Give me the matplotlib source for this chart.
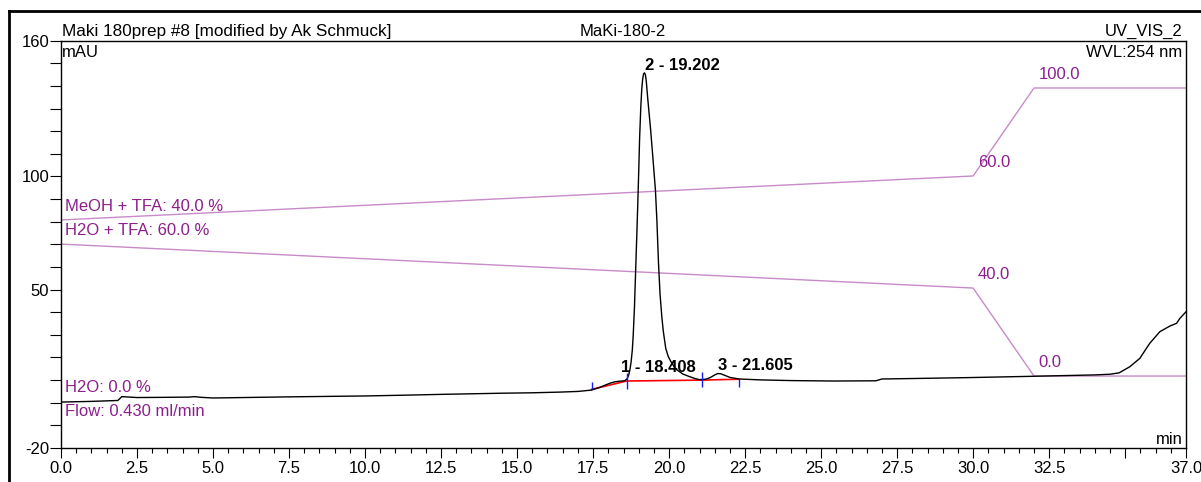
import matplotlib
matplotlib.use('Agg')
import matplotlib.pyplot as plt
from matplotlib.lines import Line2D

plt.rcParams['font.family'] = ['Liberation Sans', 'DejaVu Sans']

# ---- chromatogram trace (time in min, signal in mAU) ----
time = [0.0, 1.0, 1.87, 2.0, 2.5, 3.5, 4.2, 4.4, 4.6, 5.0, 6.0, 7.5, 10.0, 11.15,
        12.5, 14.44, 15.5, 16.4, 17.0, 17.45, 17.7, 17.9, 18.05, 18.2, 18.35,
        18.45, 18.55, 18.62, 18.67, 18.71, 18.75, 18.79, 18.82, 18.86, 18.90,
        18.94, 18.97, 19.00, 19.03, 19.07, 19.10, 19.13, 19.16, 19.19, 19.22,
        19.25, 19.30, 19.39, 19.48, 19.55, 19.60, 19.65, 19.70, 19.76, 19.81,
        19.89, 19.97, 20.05, 20.15, 20.25, 20.45, 20.68, 20.85, 21.0, 21.2,
        21.35, 21.5, 21.6, 21.7, 21.85, 22.0, 22.3, 23.0, 24.0, 25.4, 26.8,
        27.0, 27.5, 28.0, 29.8, 32.0, 34.0, 34.5, 34.8, 35.15, 35.48, 35.81,
        36.14, 36.47, 36.69, 36.8, 37.0]
signal = [0.3, 0.6, 1.0, 2.7, 2.3, 2.4, 2.5, 2.7, 2.4, 2.1, 2.3, 2.6, 3.0, 3.3,
          3.7, 4.2, 4.4, 4.7, 5.0, 5.6, 6.7, 7.8, 8.6, 9.2, 9.5,
          9.6, 9.8, 10.6, 12.2, 14.5, 18.0, 23.3, 30.0, 42.0, 58.7,
          75.0, 88.0, 102.0, 117.0, 131.0, 138.5, 143.0, 145.3, 145.8, 145.0,
          142.0, 134.0, 121.0, 106.0, 94.0, 80.0, 62.0, 48.4, 38.0, 31.5,
          24.0, 20.5, 18.4, 16.3, 14.6, 12.7, 11.5, 10.7, 10.2, 10.4,
          11.1, 12.3, 12.9, 12.8, 12.0, 11.2, 10.5, 10.1, 9.8, 9.6, 9.7,
          10.5, 10.6, 10.7, 11.1, 11.7, 12.3, 12.6, 13.2, 15.9, 19.6, 26.3,
          31.4, 33.9, 35.1, 37.3, 40.2]

# ---- integration results ----
peak_labels = ['1 - 18.408', '2 - 19.202', '3 - 21.605']
peak_rt = [18.408, 19.202, 21.605]
peak_height = [12.0, 145.8, 13.0]
baseline_t = [17.45, 18.60, 21.07, 22.31]
baseline_v = [5.9, 9.6, 10.0, 10.4]
marker_low = [5.9, 5.9, 6.8, 6.8]
marker_high = [9.3, 13.0, 13.7, 10.4]

# ---- gradient program ----
grad_t = [0.0, 30.0, 32.0, 37.0]
meoh_pct = [40.0, 60.0, 100.0, 100.0]
h2o_pct = [60.0, 40.0, 0.0, 0.0]

# ---- axis ticks ----
xmajor = [0, 2.5, 5, 7.5, 10, 12.5, 15, 17.5, 20, 22.5, 25, 27.5, 30, 32.5, 35, 37]
xlabels = ['0.0', '2.5', '5.0', '7.5', '10.0', '12.5', '15.0', '17.5', '20.0',
           '22.5', '25.0', '27.5', '30.0', '32.5', '', '37.0']
ymajor = [-20, 50, 100, 160]
ylabels = ['-20', '50', '100', '160']

W, H = 1201, 482
FS = 12
fig = plt.figure(figsize=(W / 100, H / 100), dpi=100)
ax = fig.add_axes([61 / W, 1 - 448 / H, (1186 - 61) / W, (448 - 40.7) / H])
ax.set_xlim(0, 37)
ax.set_ylim(-20, 160)

# gradient lines (percent mapped onto the signal axis)
gscale = 0.972
line_col = '#c98ac9'
txt_col = '#8c1f8c'
def g_map(pcts, offset):
    return [offset + gscale * p for p in pcts]
meoh_v = g_map(meoh_pct, 41.9)
h2o_v = g_map(h2o_pct, 11.8)
ax.plot(grad_t, meoh_v, color=line_col, lw=1.0, zorder=1)
ax.plot(grad_t, h2o_v, color=line_col, lw=1.0, zorder=1)

ax.annotate(f'MeOH + TFA: {meoh_pct[0]:.1f} %', (grad_t[0], meoh_v[0]), xytext=(3, 9.5),
            textcoords='offset points', color=txt_col, fontsize=FS, va='center', ha='left')
ax.annotate(f'H2O + TFA: {h2o_pct[0]:.1f} %', (grad_t[0], h2o_v[0]), xytext=(3, 9.5),
            textcoords='offset points', color=txt_col, fontsize=FS, va='center', ha='left')
for i in (1, 2):
    ax.annotate(f'{meoh_pct[i]:.1f}', (grad_t[i], meoh_v[i]), xytext=(3.5, 9.5),
                textcoords='offset points', color=txt_col, fontsize=FS, va='center', ha='left')
    ax.annotate(f'{h2o_pct[i]:.1f}', (grad_t[i], h2o_v[i]), xytext=(3.5, 9.5),
                textcoords='offset points', color=txt_col, fontsize=FS, va='center', ha='left')
ax.text(0.13, 6.6, 'H2O: 0.0 %', color=txt_col, fontsize=FS, va='center', ha='left')
ax.text(0.13, -4.0, 'Flow: 0.430 ml/min', color=txt_col, fontsize=FS, va='center', ha='left')

# chromatogram
ax.plot(time, signal, color='black', lw=1.0, zorder=3)
ax.plot(baseline_t, baseline_v, color='red', lw=1.2, zorder=2)
ax.vlines(baseline_t, marker_low, marker_high, color='#1a1aff', lw=1.0, zorder=4)
for lab, rt, h in zip(peak_labels, peak_rt, peak_height):
    ax.annotate(lab, (rt, h), xytext=(0, 5.5), textcoords='offset points',
                fontsize=FS, fontweight='bold', va='center', ha='left', zorder=5)

# axes styling
for s in ax.spines.values():
    s.set_linewidth(1.0)
    s.set_color('black')
ax.set_xticks(xmajor)
ax.set_xticklabels(xlabels)
ax.set_xticks([i * 0.5 for i in range(75)], minor=True)
ax.set_yticks(ymajor)
ax.set_yticklabels(ylabels)
ax.set_yticks([v for v in range(-10, 160, 10) if v not in ymajor], minor=True)
ax.tick_params(axis='x', which='major', direction='out', length=7.5, width=0.8,
               pad=2, labelsize=FS)
ax.tick_params(axis='x', which='minor', direction='out', length=3.6, width=0.8)
ax.tick_params(axis='y', which='both', direction='out', length=8, width=0.8,
               pad=0.5, labelsize=FS)

# header/corner texts
ax.text(0.001, 1.003, 'Maki 180prep #8 [modified by Ak Schmuck]', transform=ax.transAxes,
        fontsize=12.3, ha='left', va='bottom')
ax.text(0.4996, 1.003, 'MaKi-180-2', transform=ax.transAxes, fontsize=FS,
        ha='center', va='bottom')
ax.text(0.997, 1.003, 'UV_VIS_2', transform=ax.transAxes, fontsize=FS,
        ha='right', va='bottom')
ax.text(0.001, 0.989, 'mAU', transform=ax.transAxes, fontsize=FS, ha='left', va='top')
ax.text(0.997, 0.989, 'WVL:254 nm', transform=ax.transAxes, fontsize=FS,
        ha='right', va='top')
ax.text(0.997, 0.003, 'min', transform=ax.transAxes, fontsize=FS, ha='right', va='bottom')

# outer frame (cut off at right and bottom)
fx, fy = 9 / W, 1 - 11 / H
fig.add_artist(Line2D([fx, fx], [0, fy], color='black', lw=2.0, transform=fig.transFigure))
fig.add_artist(Line2D([fx, 1], [fy, fy], color='black', lw=2.0, transform=fig.transFigure))

fig.savefig('out.png', dpi=100)
